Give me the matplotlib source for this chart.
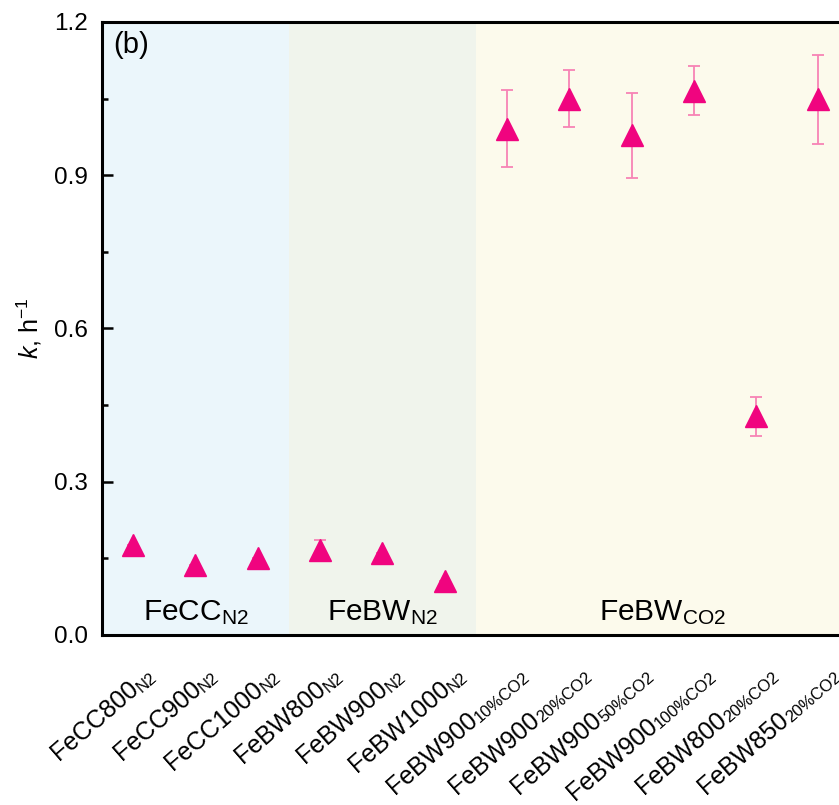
""" k values of FeCC / FeBW samples """

import math
import matplotlib
import matplotlib.pyplot as plt
from matplotlib.ticker import MultipleLocator
from matplotlib.transforms import ScaledTranslation

matplotlib.use('Agg')
plt.rcParams['font.family'] = ['Liberation Sans', 'DejaVu Sans']
plt.rcParams['mathtext.fontset'] = 'custom'
plt.rcParams['mathtext.rm'] = 'Liberation Sans'
plt.rcParams['mathtext.it'] = 'Liberation Sans:italic'

# data
label_main = ["FeCC800", "FeCC900", "FeCC1000", "FeBW800", "FeBW900", "FeBW1000",
              "FeBW900", "FeBW900", "FeBW900", "FeBW900", "FeBW800", "FeBW850"]
label_sub = ["N2", "N2", "N2", "N2", "N2", "N2",
             "10%CO2", "20%CO2", "50%CO2", "100%CO2", "20%CO2", "20%CO2"]
k_values = [0.177, 0.137, 0.150, 0.166, 0.160, 0.105,
            0.991, 1.050, 0.978, 1.065, 0.428, 1.049]
k_errors = [0.0, 0.0, 0.0, 0.019, 0.0, 0.0,
            0.075, 0.056, 0.083, 0.048, 0.038, 0.087]

groups = ["FeCC$_{\\mathrm{N2}}$", "FeBW$_{\\mathrm{N2}}$", "FeBW$_{\\mathrm{CO2}}$"]
group_spans = [(-0.5, 2.5), (2.5, 5.5), (5.5, 11.5)]
group_colors = ["#EBF6FB", "#F0F4EC", "#FCFAEC"]

MAIN_SIZE = 18
SUB_SIZE = 12
ANGLE = 41


def draw_xlabels(fig, ax, mains, subs):
    """ Rotated category labels with a small subscript, right-anchored below each tick """
    renderer = fig.canvas.get_renderer()
    cos, sin = math.cos(math.radians(ANGLE)), math.sin(math.radians(ANGLE))
    ex, ey = 17.5, -31.5   # end of subscript baseline, points from tick
    drop = 1.5             # subscript baseline below main baseline, points
    for i, (main, sub) in enumerate(zip(mains, subs)):
        tmp = fig.text(0, 0, sub, fontsize=SUB_SIZE)
        w = tmp.get_window_extent(renderer).width * 72 / fig.dpi
        tmp.remove()
        tr = ax.get_xaxis_transform() + ScaledTranslation(ex / 72, ey / 72, fig.dpi_scale_trans)
        ax.text(i, 0, sub, rotation=ANGLE, rotation_mode='anchor', ha='right',
                va='baseline', fontsize=SUB_SIZE, transform=tr, clip_on=False)
        bx = ex - w * cos - drop * sin
        by = ey - w * sin + drop * cos
        tr = ax.get_xaxis_transform() + ScaledTranslation(bx / 72, by / 72, fig.dpi_scale_trans)
        ax.text(i, 0, main, rotation=ANGLE, rotation_mode='anchor', ha='right',
                va='baseline', fontsize=MAIN_SIZE, transform=tr, clip_on=False)


fig = plt.figure(figsize=(8.39, 8.05), dpi=100)
ax = fig.add_axes([0.1216, 0.2112, 0.891, 0.7615])

for (x0, x1), color, name in zip(group_spans, group_colors, groups):
    ax.axvspan(x0, x1, color=color, lw=0, zorder=0)
    ax.text((x0 + x1) / 2, 0.028, name, ha='center', va='baseline', fontsize=21.5)

x = list(range(len(label_main)))
ax.errorbar(x, k_values, yerr=k_errors, fmt='none', ecolor='#F783B5',
            elinewidth=1.3, capsize=4.3, capthick=1.3, zorder=2)
ax.plot(x, k_values, linestyle='none', marker='^', markersize=16.5,
        color='#F0047F', zorder=3)

ax.set_xlim(-0.5, 11.5)
ax.set_ylim(0, 1.2)
ax.yaxis.set_major_locator(MultipleLocator(0.3))
ax.yaxis.set_minor_locator(MultipleLocator(0.15))
ax.tick_params(axis='y', which='major', direction='in', length=8, width=1.8,
               labelsize=17.5, pad=10)
ax.tick_params(axis='y', which='minor', direction='in', length=4, width=1.8)
ax.set_xticks(x)
ax.set_xticklabels([])
ax.tick_params(axis='x', length=0)
draw_xlabels(fig, ax, label_main, label_sub)
for spine in ax.spines.values():
    spine.set_linewidth(2.2)

ax.set_ylabel("$k$, h$^{-1}$", fontsize=18, labelpad=7)
ax.text(0.015, 0.985, "(b)", transform=ax.transAxes, ha='left', va='top', fontsize=21)

plt.savefig("out.png", dpi=100)
